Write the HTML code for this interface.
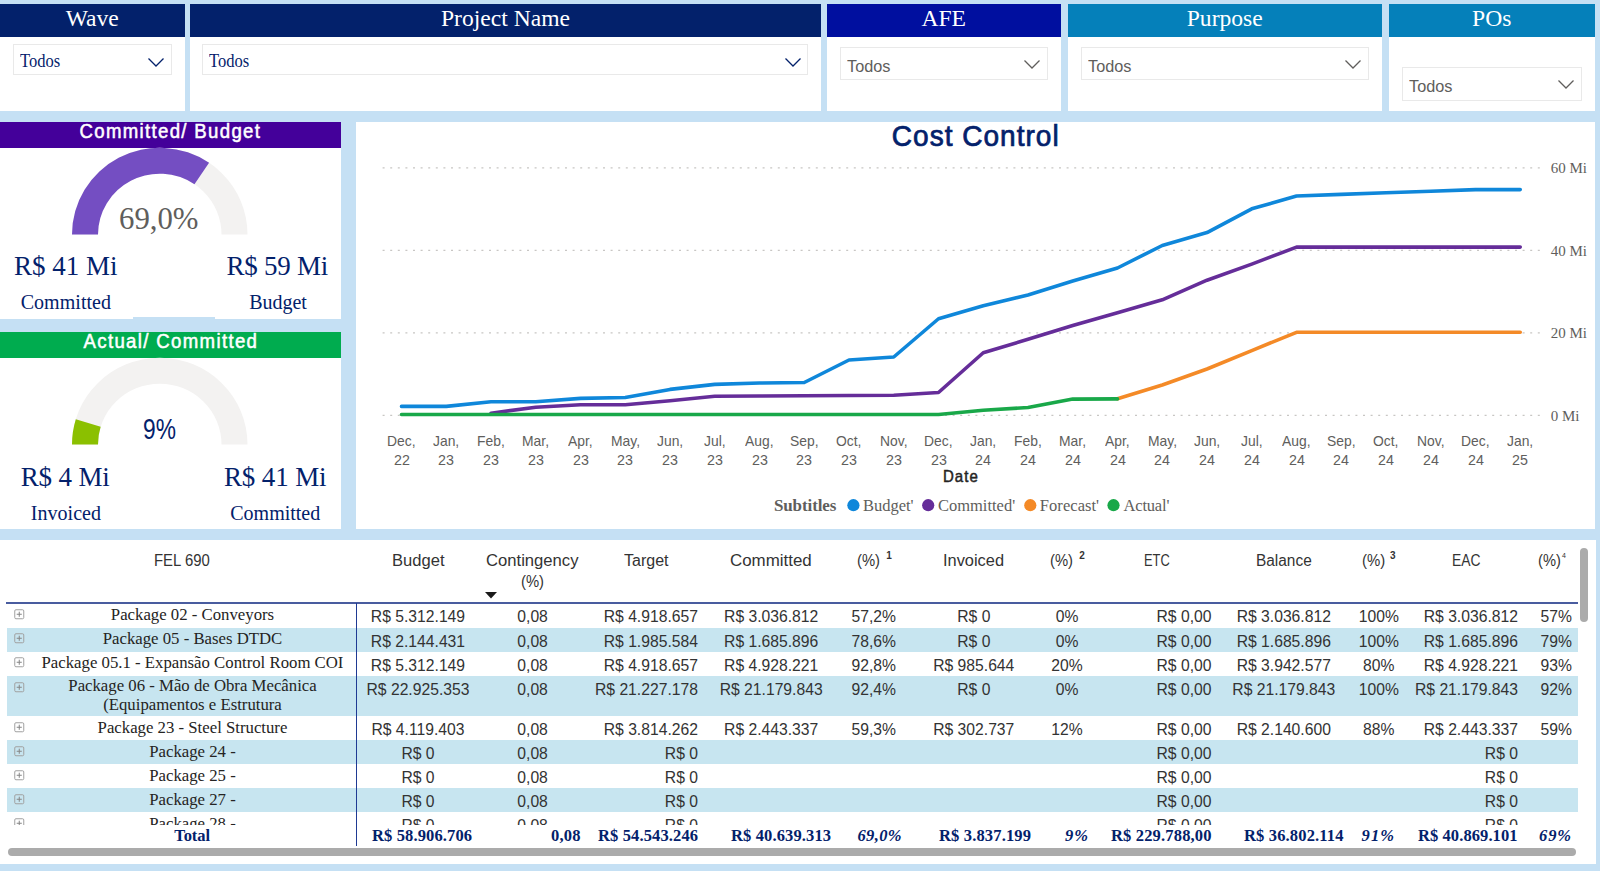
<!DOCTYPE html>
<html lang="en"><head><meta charset="utf-8"><title>Cost Control</title>
<style>
html,body{margin:0;padding:0}
body{width:1600px;height:871px;position:relative;overflow:hidden;background:#c5e0f4;font-family:"Liberation Sans",sans-serif}
.b{position:absolute}
.t{position:absolute;white-space:nowrap}
.s{font-family:"Liberation Serif",serif}
svg{position:absolute;overflow:visible}
</style></head><body>
<div class="b" style="left:0px;top:4px;width:184.5px;height:107.2px;background:#fff;"></div>
<div class="b" style="left:0px;top:4px;width:184.5px;height:33.2px;background:#03216b;"></div>
<div class="t s" style="left:65.69px;top:2.90px;font-size:23.6px;line-height:31px;color:#fff;">Wave</div>
<div class="b" style="left:13px;top:44px;width:156.5px;height:29px;background:#fff;border:1px solid #e9e9e9"></div>
<div class="t s" style="left:20.20px;top:49.70px;font-size:17.8px;line-height:23px;color:#03216b;transform:scale(0.9294,1);transform-origin:0 17.50px;">Todos</div>
<svg style="left:148.0px;top:58px" width="16" height="9" viewBox="0 0 16 9"><path d="M0.5 0.5 L8 8 L15.5 0.5" fill="none" stroke="#03216b" stroke-width="1.3"/></svg>
<div class="b" style="left:190px;top:4px;width:631px;height:107.2px;background:#fff;"></div>
<div class="b" style="left:190px;top:4px;width:631px;height:33.2px;background:#03216b;"></div>
<div class="t s" style="left:440.95px;top:2.90px;font-size:23.6px;line-height:31px;color:#fff;">Project Name</div>
<div class="b" style="left:202px;top:44px;width:604px;height:29px;background:#fff;border:1px solid #e9e9e9"></div>
<div class="t s" style="left:209.20px;top:49.70px;font-size:17.8px;line-height:23px;color:#03216b;transform:scale(0.9294,1);transform-origin:0 17.50px;">Todos</div>
<svg style="left:784.5px;top:58px" width="16" height="9" viewBox="0 0 16 9"><path d="M0.5 0.5 L8 8 L15.5 0.5" fill="none" stroke="#03216b" stroke-width="1.3"/></svg>
<div class="b" style="left:826.5px;top:4px;width:234.5px;height:107.2px;background:#fff;"></div>
<div class="b" style="left:826.5px;top:4px;width:234.5px;height:33.2px;background:#000f9f;"></div>
<div class="t s" style="left:921.46px;top:2.90px;font-size:23.6px;line-height:31px;color:#fff;">AFE</div>
<div class="b" style="left:839.5px;top:46.5px;width:206.5px;height:31.5px;background:#fff;border:1px solid #e9e9e9"></div>
<div class="t" style="left:847.30px;top:55.50px;font-size:17px;line-height:22px;color:#605e5c;transform:scale(0.9569,1);transform-origin:0 16.50px;">Todos</div>
<svg style="left:1024px;top:60.0px" width="16" height="9" viewBox="0 0 16 9"><path d="M0.5 0.5 L8 8 L15.5 0.5" fill="none" stroke="#605e5c" stroke-width="1.3"/></svg>
<div class="b" style="left:1067.5px;top:4px;width:314.5px;height:107.2px;background:#fff;"></div>
<div class="b" style="left:1067.5px;top:4px;width:314.5px;height:33.2px;background:#0580ba;"></div>
<div class="t s" style="left:1186.73px;top:2.90px;font-size:23.6px;line-height:31px;color:#fff;">Purpose</div>
<div class="b" style="left:1080.5px;top:46.5px;width:286.5px;height:31.5px;background:#fff;border:1px solid #e9e9e9"></div>
<div class="t" style="left:1088.30px;top:55.50px;font-size:17px;line-height:22px;color:#605e5c;transform:scale(0.9569,1);transform-origin:0 16.50px;">Todos</div>
<svg style="left:1345px;top:60.0px" width="16" height="9" viewBox="0 0 16 9"><path d="M0.5 0.5 L8 8 L15.5 0.5" fill="none" stroke="#605e5c" stroke-width="1.3"/></svg>
<div class="b" style="left:1388.5px;top:4px;width:206.5px;height:107.2px;background:#fff;"></div>
<div class="b" style="left:1388.5px;top:4px;width:206.5px;height:33.2px;background:#0580ba;"></div>
<div class="t s" style="left:1472.08px;top:2.90px;font-size:23.6px;line-height:31px;color:#fff;">POs</div>
<div class="b" style="left:1401.5px;top:66.5px;width:178.0px;height:32.0px;background:#fff;border:1px solid #e9e9e9"></div>
<div class="t" style="left:1409.30px;top:75.50px;font-size:17px;line-height:22px;color:#605e5c;transform:scale(0.9569,1);transform-origin:0 16.50px;">Todos</div>
<svg style="left:1557.5px;top:80.0px" width="16" height="9" viewBox="0 0 16 9"><path d="M0.5 0.5 L8 8 L15.5 0.5" fill="none" stroke="#605e5c" stroke-width="1.3"/></svg>
<div class="b" style="left:0px;top:122px;width:341px;height:197px;background:#fff;"></div>
<div class="b" style="left:0px;top:122px;width:341px;height:25.5px;background:#44009a;"></div>
<svg style="left:0;top:0" width="342" height="871" viewBox="0 0 342 871">
<path d="M72.00 234.50 A87.75 86.75 0 0 1 247.50 234.50 L221.50 234.50 A61.75 60.75 0 0 0 98.00 234.50 Z" fill="#f3f2f1"/>
<path d="M72.00 234.50 A87.75 86.75 0 0 1 209.07 162.75 L194.46 184.25 A61.75 60.75 0 0 0 98.00 234.50 Z" fill="#744ec2"/>
</svg>
<div class="t" style="left:79.50px;top:119.80px;font-size:18.6px;line-height:24px;color:#fff;letter-spacing:1.330px;-webkit-text-stroke:0.5px #fff;transform:scaleY(1.08);transform-origin:0 18.50px;">Committed/ Budget</div>
<div class="t s" style="left:118.70px;top:199.40px;font-size:31px;line-height:40px;color:#605e5c;transform:scale(0.9928,1);transform-origin:0 30.50px;">69,0%</div>
<div class="t s" style="left:13.90px;top:248.90px;font-size:27px;line-height:35px;color:#03216b;">R$ 41 Mi</div>
<div class="t s" style="left:226.50px;top:248.90px;font-size:27px;line-height:35px;color:#03216b;letter-spacing:-0.245px;">R$ 59 Mi</div>
<div class="t s" style="left:20.70px;top:289.40px;font-size:20px;line-height:26px;color:#03216b;letter-spacing:0.037px;">Committed</div>
<div class="t s" style="left:249.20px;top:289.40px;font-size:20px;line-height:26px;color:#03216b;letter-spacing:-0.036px;">Budget</div>
<div class="b" style="left:133px;top:316.8px;width:82.4px;height:2.4px;background:#c5e0f4;"></div>
<div class="b" style="left:0px;top:332px;width:341px;height:197px;background:#fff;"></div>
<div class="b" style="left:0px;top:332px;width:341px;height:25.5px;background:#00ac4f;"></div>
<svg style="left:0;top:0" width="342" height="871" viewBox="0 0 342 871">
<path d="M72.00 444.50 A87.75 86.75 0 0 1 247.50 444.50 L221.50 444.50 A61.75 60.75 0 0 0 98.00 444.50 Z" fill="#f3f2f1"/>
<path d="M72.00 444.50 A87.75 86.75 0 0 1 75.80 419.25 L100.67 426.82 A61.75 60.75 0 0 0 98.00 444.50 Z" fill="#8bc000"/>
</svg>
<div class="t" style="left:83.50px;top:329.80px;font-size:18.6px;line-height:24px;color:#fff;letter-spacing:1.347px;-webkit-text-stroke:0.5px #fff;transform:scaleY(1.08);transform-origin:0 18.50px;">Actual/ Committed</div>
<div class="t" style="left:143.40px;top:412.40px;font-size:27.5px;line-height:36px;color:#03216b;transform:scale(0.8279,1.06);transform-origin:0 27.50px;">9%</div>
<div class="t s" style="left:20.70px;top:459.50px;font-size:27px;line-height:35px;color:#03216b;letter-spacing:-0.153px;">R$ 4 Mi</div>
<div class="t s" style="left:224.00px;top:459.50px;font-size:27px;line-height:35px;color:#03216b;letter-spacing:-0.145px;">R$ 41 Mi</div>
<div class="t s" style="left:30.80px;top:499.90px;font-size:20px;line-height:26px;color:#03216b;letter-spacing:0.031px;">Invoiced</div>
<div class="t s" style="left:230.30px;top:499.90px;font-size:20px;line-height:26px;color:#03216b;letter-spacing:-0.013px;">Committed</div>
<div class="b" style="left:356px;top:121.6px;width:1239px;height:407.4px;background:#fff;"></div>
<div class="t" style="left:891.80px;top:118.50px;font-size:28px;line-height:36px;color:#03216b;letter-spacing:1.025px;-webkit-text-stroke:0.7px #03216b;transform:scaleY(1.07);transform-origin:0 27.50px;">Cost Control</div>
<svg style="left:0;top:0" width="1600" height="871" viewBox="0 0 1600 871">
<line x1="382.6" y1="167.9" x2="1540" y2="167.9" stroke="#c8c6c4" stroke-width="1.4" stroke-dasharray="2 5.6" />
<line x1="382.6" y1="250.4" x2="1540" y2="250.4" stroke="#c8c6c4" stroke-width="1.4" stroke-dasharray="2 5.6" />
<line x1="382.6" y1="332.9" x2="1540" y2="332.9" stroke="#c8c6c4" stroke-width="1.4" stroke-dasharray="2 5.6" />
<line x1="382.6" y1="415.4" x2="1540" y2="415.4" stroke="#c8c6c4" stroke-width="1.4" stroke-dasharray="2 5.6" />
<polyline points="401.50,406.40 446.25,406.40 491.00,401.80 535.75,401.80 580.50,398.40 625.25,397.50 670.00,389.40 714.75,384.40 759.50,383.00 804.25,382.50 849.00,360.00 893.75,357.00 938.50,318.75 983.25,305.75 1028.00,295.00 1072.75,281.00 1117.50,268.00 1162.25,245.50 1207.00,232.60 1251.75,208.80 1296.50,196.00 1341.25,194.40 1386.00,192.80 1430.75,191.20 1475.50,189.60 1520.25,189.60" fill="none" stroke="#0f87da" stroke-width="3.6" stroke-linecap="round" stroke-linejoin="round"/>
<polyline points="491.00,413.20 535.75,407.20 580.50,404.70 625.25,404.70 670.00,400.70 714.75,396.30 759.50,396.00 804.25,395.75 849.00,395.50 893.75,395.25 938.50,392.50 983.25,352.75 1028.00,339.25 1072.75,325.50 1117.50,312.80 1162.25,299.80 1207.00,280.20 1251.75,264.10 1296.50,247.10 1341.25,247.10 1386.00,247.10 1430.75,247.10 1475.50,247.10 1520.25,247.10" fill="none" stroke="#652d99" stroke-width="3.6" stroke-linecap="round" stroke-linejoin="round"/>
<polyline points="1117.50,398.70 1162.25,385.00 1207.00,369.00 1251.75,350.60 1296.50,332.30 1341.25,332.30 1386.00,332.30 1430.75,332.30 1475.50,332.30 1520.25,332.30" fill="none" stroke="#f48a27" stroke-width="3.6" stroke-linecap="round" stroke-linejoin="round"/>
<polyline points="401.50,414.50 446.25,414.50 491.00,414.50 535.75,414.50 580.50,414.50 625.25,414.50 670.00,414.50 714.75,414.50 759.50,414.50 804.25,414.50 849.00,414.50 893.75,414.50 938.50,414.50 983.25,410.25 1028.00,407.50 1072.75,399.10 1117.50,398.90" fill="none" stroke="#19a849" stroke-width="3.6" stroke-linecap="round" stroke-linejoin="round"/>
<circle cx="853.4" cy="505.2" r="6.1" fill="#0f87da"/>
<circle cx="928.2" cy="505.2" r="6.1" fill="#652d99"/>
<circle cx="1030.3" cy="505.2" r="6.1" fill="#f48a27"/>
<circle cx="1113.5" cy="505.2" r="6.1" fill="#19a849"/>
</svg>
<div class="t s" style="left:1550.70px;top:158.40px;font-size:15px;line-height:20px;color:#605e5c;">60 Mi</div>
<div class="t s" style="left:1550.70px;top:240.90px;font-size:15px;line-height:20px;color:#605e5c;">40 Mi</div>
<div class="t s" style="left:1550.70px;top:323.40px;font-size:15px;line-height:20px;color:#605e5c;">20 Mi</div>
<div class="t s" style="left:1550.70px;top:405.90px;font-size:15px;line-height:20px;color:#605e5c;">0 Mi</div>
<div class="t" style="left:387.24px;top:430.60px;font-size:15px;line-height:20px;color:#605e5c;transform:scale(0.9250,1);transform-origin:0 15.50px;">Dec,</div>
<div class="t" style="left:393.58px;top:449.60px;font-size:15px;line-height:20px;color:#605e5c;transform:scale(0.9500,1);transform-origin:0 15.50px;">22</div>
<div class="t" style="left:433.14px;top:430.60px;font-size:15px;line-height:20px;color:#605e5c;transform:scale(0.9250,1);transform-origin:0 15.50px;">Jan,</div>
<div class="t" style="left:438.33px;top:449.60px;font-size:15px;line-height:20px;color:#605e5c;transform:scale(0.9500,1);transform-origin:0 15.50px;">23</div>
<div class="t" style="left:477.12px;top:430.60px;font-size:15px;line-height:20px;color:#605e5c;transform:scale(0.9250,1);transform-origin:0 15.50px;">Feb,</div>
<div class="t" style="left:483.08px;top:449.60px;font-size:15px;line-height:20px;color:#605e5c;transform:scale(0.9500,1);transform-origin:0 15.50px;">23</div>
<div class="t" style="left:522.26px;top:430.60px;font-size:15px;line-height:20px;color:#605e5c;transform:scale(0.9250,1);transform-origin:0 15.50px;">Mar,</div>
<div class="t" style="left:527.83px;top:449.60px;font-size:15px;line-height:20px;color:#605e5c;transform:scale(0.9500,1);transform-origin:0 15.50px;">23</div>
<div class="t" style="left:568.16px;top:430.60px;font-size:15px;line-height:20px;color:#605e5c;transform:scale(0.9250,1);transform-origin:0 15.50px;">Apr,</div>
<div class="t" style="left:572.58px;top:449.60px;font-size:15px;line-height:20px;color:#605e5c;transform:scale(0.9500,1);transform-origin:0 15.50px;">23</div>
<div class="t" style="left:610.73px;top:430.60px;font-size:15px;line-height:20px;color:#605e5c;transform:scale(0.9250,1);transform-origin:0 15.50px;">May,</div>
<div class="t" style="left:617.33px;top:449.60px;font-size:15px;line-height:20px;color:#605e5c;transform:scale(0.9500,1);transform-origin:0 15.50px;">23</div>
<div class="t" style="left:656.89px;top:430.60px;font-size:15px;line-height:20px;color:#605e5c;transform:scale(0.9250,1);transform-origin:0 15.50px;">Jun,</div>
<div class="t" style="left:662.08px;top:449.60px;font-size:15px;line-height:20px;color:#605e5c;transform:scale(0.9500,1);transform-origin:0 15.50px;">23</div>
<div class="t" style="left:703.96px;top:430.60px;font-size:15px;line-height:20px;color:#605e5c;transform:scale(0.9250,1);transform-origin:0 15.50px;">Jul,</div>
<div class="t" style="left:706.83px;top:449.60px;font-size:15px;line-height:20px;color:#605e5c;transform:scale(0.9500,1);transform-origin:0 15.50px;">23</div>
<div class="t" style="left:745.23px;top:430.60px;font-size:15px;line-height:20px;color:#605e5c;transform:scale(0.9250,1);transform-origin:0 15.50px;">Aug,</div>
<div class="t" style="left:751.58px;top:449.60px;font-size:15px;line-height:20px;color:#605e5c;transform:scale(0.9500,1);transform-origin:0 15.50px;">23</div>
<div class="t" style="left:789.98px;top:430.60px;font-size:15px;line-height:20px;color:#605e5c;transform:scale(0.9250,1);transform-origin:0 15.50px;">Sep,</div>
<div class="t" style="left:796.33px;top:449.60px;font-size:15px;line-height:20px;color:#605e5c;transform:scale(0.9500,1);transform-origin:0 15.50px;">23</div>
<div class="t" style="left:836.28px;top:430.60px;font-size:15px;line-height:20px;color:#605e5c;transform:scale(0.9250,1);transform-origin:0 15.50px;">Oct,</div>
<div class="t" style="left:841.08px;top:449.60px;font-size:15px;line-height:20px;color:#605e5c;transform:scale(0.9500,1);transform-origin:0 15.50px;">23</div>
<div class="t" style="left:880.00px;top:430.60px;font-size:15px;line-height:20px;color:#605e5c;transform:scale(0.9250,1);transform-origin:0 15.50px;">Nov,</div>
<div class="t" style="left:885.83px;top:449.60px;font-size:15px;line-height:20px;color:#605e5c;transform:scale(0.9500,1);transform-origin:0 15.50px;">23</div>
<div class="t" style="left:924.24px;top:430.60px;font-size:15px;line-height:20px;color:#605e5c;transform:scale(0.9250,1);transform-origin:0 15.50px;">Dec,</div>
<div class="t" style="left:930.58px;top:449.60px;font-size:15px;line-height:20px;color:#605e5c;transform:scale(0.9500,1);transform-origin:0 15.50px;">23</div>
<div class="t" style="left:970.14px;top:430.60px;font-size:15px;line-height:20px;color:#605e5c;transform:scale(0.9250,1);transform-origin:0 15.50px;">Jan,</div>
<div class="t" style="left:975.33px;top:449.60px;font-size:15px;line-height:20px;color:#605e5c;transform:scale(0.9500,1);transform-origin:0 15.50px;">24</div>
<div class="t" style="left:1014.12px;top:430.60px;font-size:15px;line-height:20px;color:#605e5c;transform:scale(0.9250,1);transform-origin:0 15.50px;">Feb,</div>
<div class="t" style="left:1020.08px;top:449.60px;font-size:15px;line-height:20px;color:#605e5c;transform:scale(0.9500,1);transform-origin:0 15.50px;">24</div>
<div class="t" style="left:1059.26px;top:430.60px;font-size:15px;line-height:20px;color:#605e5c;transform:scale(0.9250,1);transform-origin:0 15.50px;">Mar,</div>
<div class="t" style="left:1064.83px;top:449.60px;font-size:15px;line-height:20px;color:#605e5c;transform:scale(0.9500,1);transform-origin:0 15.50px;">24</div>
<div class="t" style="left:1105.16px;top:430.60px;font-size:15px;line-height:20px;color:#605e5c;transform:scale(0.9250,1);transform-origin:0 15.50px;">Apr,</div>
<div class="t" style="left:1109.58px;top:449.60px;font-size:15px;line-height:20px;color:#605e5c;transform:scale(0.9500,1);transform-origin:0 15.50px;">24</div>
<div class="t" style="left:1147.73px;top:430.60px;font-size:15px;line-height:20px;color:#605e5c;transform:scale(0.9250,1);transform-origin:0 15.50px;">May,</div>
<div class="t" style="left:1154.33px;top:449.60px;font-size:15px;line-height:20px;color:#605e5c;transform:scale(0.9500,1);transform-origin:0 15.50px;">24</div>
<div class="t" style="left:1193.89px;top:430.60px;font-size:15px;line-height:20px;color:#605e5c;transform:scale(0.9250,1);transform-origin:0 15.50px;">Jun,</div>
<div class="t" style="left:1199.08px;top:449.60px;font-size:15px;line-height:20px;color:#605e5c;transform:scale(0.9500,1);transform-origin:0 15.50px;">24</div>
<div class="t" style="left:1240.96px;top:430.60px;font-size:15px;line-height:20px;color:#605e5c;transform:scale(0.9250,1);transform-origin:0 15.50px;">Jul,</div>
<div class="t" style="left:1243.83px;top:449.60px;font-size:15px;line-height:20px;color:#605e5c;transform:scale(0.9500,1);transform-origin:0 15.50px;">24</div>
<div class="t" style="left:1282.23px;top:430.60px;font-size:15px;line-height:20px;color:#605e5c;transform:scale(0.9250,1);transform-origin:0 15.50px;">Aug,</div>
<div class="t" style="left:1288.58px;top:449.60px;font-size:15px;line-height:20px;color:#605e5c;transform:scale(0.9500,1);transform-origin:0 15.50px;">24</div>
<div class="t" style="left:1326.98px;top:430.60px;font-size:15px;line-height:20px;color:#605e5c;transform:scale(0.9250,1);transform-origin:0 15.50px;">Sep,</div>
<div class="t" style="left:1333.33px;top:449.60px;font-size:15px;line-height:20px;color:#605e5c;transform:scale(0.9500,1);transform-origin:0 15.50px;">24</div>
<div class="t" style="left:1373.28px;top:430.60px;font-size:15px;line-height:20px;color:#605e5c;transform:scale(0.9250,1);transform-origin:0 15.50px;">Oct,</div>
<div class="t" style="left:1378.08px;top:449.60px;font-size:15px;line-height:20px;color:#605e5c;transform:scale(0.9500,1);transform-origin:0 15.50px;">24</div>
<div class="t" style="left:1417.00px;top:430.60px;font-size:15px;line-height:20px;color:#605e5c;transform:scale(0.9250,1);transform-origin:0 15.50px;">Nov,</div>
<div class="t" style="left:1422.83px;top:449.60px;font-size:15px;line-height:20px;color:#605e5c;transform:scale(0.9500,1);transform-origin:0 15.50px;">24</div>
<div class="t" style="left:1461.24px;top:430.60px;font-size:15px;line-height:20px;color:#605e5c;transform:scale(0.9250,1);transform-origin:0 15.50px;">Dec,</div>
<div class="t" style="left:1467.58px;top:449.60px;font-size:15px;line-height:20px;color:#605e5c;transform:scale(0.9500,1);transform-origin:0 15.50px;">24</div>
<div class="t" style="left:1507.14px;top:430.60px;font-size:15px;line-height:20px;color:#605e5c;transform:scale(0.9250,1);transform-origin:0 15.50px;">Jan,</div>
<div class="t" style="left:1512.33px;top:449.60px;font-size:15px;line-height:20px;color:#605e5c;transform:scale(0.9500,1);transform-origin:0 15.50px;">25</div>
<div class="t" style="left:943.00px;top:466.50px;font-size:15px;line-height:20px;color:#252423;letter-spacing:1.040px;-webkit-text-stroke:0.45px #252423;transform:scaleY(1.06);transform-origin:0 15.50px;">Date</div>
<div class="t s" style="left:773.90px;top:494.50px;font-size:17px;line-height:22px;color:#605e5c;font-weight:700;letter-spacing:-0.099px;">Subtitles</div>
<div class="t s" style="left:863.10px;top:495.00px;font-size:16.5px;line-height:21px;color:#605e5c;letter-spacing:-0.040px;">Budget'</div>
<div class="t s" style="left:938.00px;top:495.00px;font-size:16.5px;line-height:21px;color:#605e5c;letter-spacing:-0.013px;">Committed'</div>
<div class="t s" style="left:1039.80px;top:495.00px;font-size:16.5px;line-height:21px;color:#605e5c;letter-spacing:0.053px;">Forecast'</div>
<div class="t s" style="left:1123.50px;top:495.00px;font-size:16.5px;line-height:21px;color:#605e5c;letter-spacing:-0.176px;">Actual'</div>
<div class="b" style="left:0px;top:540px;width:1595.5px;height:324px;background:#fff;"></div>
<div class="t" style="left:153.75px;top:549.70px;font-size:16px;line-height:21px;color:#333;transform:scale(0.9309,1);transform-origin:0 16.00px;">FEL 690</div>
<div class="t" style="left:391.75px;top:549.70px;font-size:16px;line-height:21px;color:#333;transform:scale(1.0354,1);transform-origin:0 16.00px;">Budget</div>
<div class="t" style="left:486.25px;top:549.70px;font-size:16px;line-height:21px;color:#333;transform:scale(1.0400,1);transform-origin:0 16.00px;">Contingency</div>
<div class="t" style="left:521.25px;top:571.00px;font-size:16px;line-height:21px;color:#333;transform:scale(0.9244,1);transform-origin:0 16.00px;">(%)</div>
<div class="t" style="left:623.75px;top:549.70px;font-size:16px;line-height:21px;color:#333;transform:scale(1.0008,1);transform-origin:0 16.00px;">Target</div>
<div class="t" style="left:730.00px;top:549.70px;font-size:16px;line-height:21px;color:#333;transform:scale(1.0567,1);transform-origin:0 16.00px;">Committed</div>
<div class="t" style="left:856.50px;top:549.70px;font-size:16px;line-height:21px;color:#333;transform:scale(0.9244,1);transform-origin:0 16.00px;">(%)</div>
<div class="t" style="left:886.25px;top:549.30px;font-size:10px;line-height:13px;color:#333;font-weight:700;">1</div>
<div class="t" style="left:943.25px;top:549.70px;font-size:16px;line-height:21px;color:#333;transform:scale(1.0235,1);transform-origin:0 16.00px;">Invoiced</div>
<div class="t" style="left:1050.00px;top:549.70px;font-size:16px;line-height:21px;color:#333;transform:scale(0.9244,1);transform-origin:0 16.00px;">(%)</div>
<div class="t" style="left:1079.25px;top:549.30px;font-size:10px;line-height:13px;color:#333;font-weight:700;">2</div>
<div class="t" style="left:1144.25px;top:549.70px;font-size:16px;line-height:21px;color:#333;transform:scale(0.8047,1);transform-origin:0 16.00px;">ETC</div>
<div class="t" style="left:1256.25px;top:549.70px;font-size:16px;line-height:21px;color:#333;transform:scale(0.9641,1);transform-origin:0 16.00px;">Balance</div>
<div class="t" style="left:1361.50px;top:549.70px;font-size:16px;line-height:21px;color:#333;transform:scale(0.9325,1);transform-origin:0 16.00px;">(%)</div>
<div class="t" style="left:1390.00px;top:549.30px;font-size:10px;line-height:13px;color:#333;font-weight:700;">3</div>
<div class="t" style="left:1451.50px;top:549.70px;font-size:16px;line-height:21px;color:#333;transform:scale(0.8664,1);transform-origin:0 16.00px;">EAC</div>
<div class="t" style="left:1538.00px;top:549.70px;font-size:16px;line-height:21px;color:#333;transform:scale(0.9164,1);transform-origin:0 16.00px;">(%)</div>
<div class="t" style="left:1562.00px;top:550.50px;font-size:7px;line-height:9px;color:#333;">4</div>
<svg style="left:485px;top:592px" width="12" height="7" viewBox="0 0 12 7"><path d="M0 0 H12 L6 6.5 Z" fill="#1a1a1a"/></svg>
<div class="b" style="left:0;top:603.3px;width:1595px;height:222.2px;overflow:hidden">
<div class="b" style="left:0;top:-603.3px;width:1595px;height:871px">
<svg style="left:14px;top:609.10px" width="11" height="11" viewBox="0 0 11 11"><rect x="0.75" y="0.75" width="9" height="9" rx="1.2" fill="none" stroke="#a0a0a0" stroke-width="1"/><path d="M2.7 5.25 H7.8 M5.25 2.7 V7.8" stroke="#858585" stroke-width="1" fill="none"/></svg>
<div class="t s" style="left:110.86px;top:604.10px;font-size:16.75px;line-height:22px;color:#252423;">Package 02 - Conveyors</div>
<div class="t" style="left:370.86px;top:607.40px;font-size:15.7px;line-height:20px;color:#333;">R$ 5.312.149</div>
<div class="t" style="left:517.32px;top:607.40px;font-size:15.7px;line-height:20px;color:#333;">0,08</div>
<div class="t" style="left:603.72px;top:607.40px;font-size:15.7px;line-height:20px;color:#333;">R$ 4.918.657</div>
<div class="t" style="left:724.06px;top:607.40px;font-size:15.7px;line-height:20px;color:#333;">R$ 3.036.812</div>
<div class="t" style="left:851.55px;top:607.40px;font-size:15.7px;line-height:20px;color:#333;">57,2%</div>
<div class="t" style="left:957.22px;top:607.40px;font-size:15.7px;line-height:20px;color:#333;">R$ 0</div>
<div class="t" style="left:1055.66px;top:607.40px;font-size:15.7px;line-height:20px;color:#333;">0%</div>
<div class="t" style="left:1156.52px;top:607.40px;font-size:15.7px;line-height:20px;color:#333;">R$ 0,00</div>
<div class="t" style="left:1236.66px;top:607.40px;font-size:15.7px;line-height:20px;color:#333;">R$ 3.036.812</div>
<div class="t" style="left:1358.72px;top:607.40px;font-size:15.7px;line-height:20px;color:#333;">100%</div>
<div class="t" style="left:1423.72px;top:607.40px;font-size:15.7px;line-height:20px;color:#333;">R$ 3.036.812</div>
<div class="t" style="left:1540.58px;top:607.40px;font-size:15.7px;line-height:20px;color:#333;">57%</div>
<div class="b" style="left:6.9px;top:627.5px;width:1570.9px;height:24.0px;background:#c7e5f0;"></div>
<svg style="left:14px;top:633.30px" width="11" height="11" viewBox="0 0 11 11"><rect x="0.75" y="0.75" width="9" height="9" rx="1.2" fill="none" stroke="#a0a0a0" stroke-width="1"/><path d="M2.7 5.25 H7.8 M5.25 2.7 V7.8" stroke="#858585" stroke-width="1" fill="none"/></svg>
<div class="t s" style="left:102.72px;top:628.30px;font-size:16.75px;line-height:22px;color:#252423;">Package 05 - Bases DTDC</div>
<div class="t" style="left:370.86px;top:631.60px;font-size:15.7px;line-height:20px;color:#333;">R$ 2.144.431</div>
<div class="t" style="left:517.32px;top:631.60px;font-size:15.7px;line-height:20px;color:#333;">0,08</div>
<div class="t" style="left:603.72px;top:631.60px;font-size:15.7px;line-height:20px;color:#333;">R$ 1.985.584</div>
<div class="t" style="left:724.06px;top:631.60px;font-size:15.7px;line-height:20px;color:#333;">R$ 1.685.896</div>
<div class="t" style="left:851.55px;top:631.60px;font-size:15.7px;line-height:20px;color:#333;">78,6%</div>
<div class="t" style="left:957.22px;top:631.60px;font-size:15.7px;line-height:20px;color:#333;">R$ 0</div>
<div class="t" style="left:1055.66px;top:631.60px;font-size:15.7px;line-height:20px;color:#333;">0%</div>
<div class="t" style="left:1156.52px;top:631.60px;font-size:15.7px;line-height:20px;color:#333;">R$ 0,00</div>
<div class="t" style="left:1236.66px;top:631.60px;font-size:15.7px;line-height:20px;color:#333;">R$ 1.685.896</div>
<div class="t" style="left:1358.72px;top:631.60px;font-size:15.7px;line-height:20px;color:#333;">100%</div>
<div class="t" style="left:1423.72px;top:631.60px;font-size:15.7px;line-height:20px;color:#333;">R$ 1.685.896</div>
<div class="t" style="left:1540.58px;top:631.60px;font-size:15.7px;line-height:20px;color:#333;">79%</div>
<svg style="left:14px;top:657.30px" width="11" height="11" viewBox="0 0 11 11"><rect x="0.75" y="0.75" width="9" height="9" rx="1.2" fill="none" stroke="#a0a0a0" stroke-width="1"/><path d="M2.7 5.25 H7.8 M5.25 2.7 V7.8" stroke="#858585" stroke-width="1" fill="none"/></svg>
<div class="t s" style="left:41.54px;top:652.30px;font-size:16.75px;line-height:22px;color:#252423;">Package 05.1 - Expansão Control Room COI</div>
<div class="t" style="left:370.86px;top:655.60px;font-size:15.7px;line-height:20px;color:#333;">R$ 5.312.149</div>
<div class="t" style="left:517.32px;top:655.60px;font-size:15.7px;line-height:20px;color:#333;">0,08</div>
<div class="t" style="left:603.72px;top:655.60px;font-size:15.7px;line-height:20px;color:#333;">R$ 4.918.657</div>
<div class="t" style="left:724.06px;top:655.60px;font-size:15.7px;line-height:20px;color:#333;">R$ 4.928.221</div>
<div class="t" style="left:851.55px;top:655.60px;font-size:15.7px;line-height:20px;color:#333;">92,8%</div>
<div class="t" style="left:933.21px;top:655.60px;font-size:15.7px;line-height:20px;color:#333;">R$ 985.644</div>
<div class="t" style="left:1051.29px;top:655.60px;font-size:15.7px;line-height:20px;color:#333;">20%</div>
<div class="t" style="left:1156.52px;top:655.60px;font-size:15.7px;line-height:20px;color:#333;">R$ 0,00</div>
<div class="t" style="left:1236.66px;top:655.60px;font-size:15.7px;line-height:20px;color:#333;">R$ 3.942.577</div>
<div class="t" style="left:1363.09px;top:655.60px;font-size:15.7px;line-height:20px;color:#333;">80%</div>
<div class="t" style="left:1423.72px;top:655.60px;font-size:15.7px;line-height:20px;color:#333;">R$ 4.928.221</div>
<div class="t" style="left:1540.58px;top:655.60px;font-size:15.7px;line-height:20px;color:#333;">93%</div>
<div class="b" style="left:6.9px;top:675.75px;width:1570.9px;height:40.0px;background:#c7e5f0;"></div>
<svg style="left:14px;top:681.55px" width="11" height="11" viewBox="0 0 11 11"><rect x="0.75" y="0.75" width="9" height="9" rx="1.2" fill="none" stroke="#a0a0a0" stroke-width="1"/><path d="M2.7 5.25 H7.8 M5.25 2.7 V7.8" stroke="#858585" stroke-width="1" fill="none"/></svg>
<div class="t s" style="left:68.32px;top:675.45px;font-size:16.75px;line-height:22px;color:#252423;">Package 06 - Mão de Obra Mecânica</div>
<div class="t s" style="left:103.19px;top:694.45px;font-size:16.75px;line-height:22px;color:#252423;">(Equipamentos e Estrutura</div>
<div class="t" style="left:366.50px;top:679.85px;font-size:15.7px;line-height:20px;color:#333;">R$ 22.925.353</div>
<div class="t" style="left:517.32px;top:679.85px;font-size:15.7px;line-height:20px;color:#333;">0,08</div>
<div class="t" style="left:594.99px;top:679.85px;font-size:15.7px;line-height:20px;color:#333;">R$ 21.227.178</div>
<div class="t" style="left:719.70px;top:679.85px;font-size:15.7px;line-height:20px;color:#333;">R$ 21.179.843</div>
<div class="t" style="left:851.55px;top:679.85px;font-size:15.7px;line-height:20px;color:#333;">92,4%</div>
<div class="t" style="left:957.22px;top:679.85px;font-size:15.7px;line-height:20px;color:#333;">R$ 0</div>
<div class="t" style="left:1055.66px;top:679.85px;font-size:15.7px;line-height:20px;color:#333;">0%</div>
<div class="t" style="left:1156.52px;top:679.85px;font-size:15.7px;line-height:20px;color:#333;">R$ 0,00</div>
<div class="t" style="left:1232.30px;top:679.85px;font-size:15.7px;line-height:20px;color:#333;">R$ 21.179.843</div>
<div class="t" style="left:1358.72px;top:679.85px;font-size:15.7px;line-height:20px;color:#333;">100%</div>
<div class="t" style="left:1414.99px;top:679.85px;font-size:15.7px;line-height:20px;color:#333;">R$ 21.179.843</div>
<div class="t" style="left:1540.58px;top:679.85px;font-size:15.7px;line-height:20px;color:#333;">92%</div>
<svg style="left:14px;top:721.55px" width="11" height="11" viewBox="0 0 11 11"><rect x="0.75" y="0.75" width="9" height="9" rx="1.2" fill="none" stroke="#a0a0a0" stroke-width="1"/><path d="M2.7 5.25 H7.8 M5.25 2.7 V7.8" stroke="#858585" stroke-width="1" fill="none"/></svg>
<div class="t s" style="left:97.61px;top:716.55px;font-size:16.75px;line-height:22px;color:#252423;">Package 23 - Steel Structure</div>
<div class="t" style="left:371.44px;top:719.85px;font-size:15.7px;line-height:20px;color:#333;">R$ 4.119.403</div>
<div class="t" style="left:517.32px;top:719.85px;font-size:15.7px;line-height:20px;color:#333;">0,08</div>
<div class="t" style="left:603.72px;top:719.85px;font-size:15.7px;line-height:20px;color:#333;">R$ 3.814.262</div>
<div class="t" style="left:724.06px;top:719.85px;font-size:15.7px;line-height:20px;color:#333;">R$ 2.443.337</div>
<div class="t" style="left:851.55px;top:719.85px;font-size:15.7px;line-height:20px;color:#333;">59,3%</div>
<div class="t" style="left:933.21px;top:719.85px;font-size:15.7px;line-height:20px;color:#333;">R$ 302.737</div>
<div class="t" style="left:1051.29px;top:719.85px;font-size:15.7px;line-height:20px;color:#333;">12%</div>
<div class="t" style="left:1156.52px;top:719.85px;font-size:15.7px;line-height:20px;color:#333;">R$ 0,00</div>
<div class="t" style="left:1236.66px;top:719.85px;font-size:15.7px;line-height:20px;color:#333;">R$ 2.140.600</div>
<div class="t" style="left:1363.09px;top:719.85px;font-size:15.7px;line-height:20px;color:#333;">88%</div>
<div class="t" style="left:1423.72px;top:719.85px;font-size:15.7px;line-height:20px;color:#333;">R$ 2.443.337</div>
<div class="t" style="left:1540.58px;top:719.85px;font-size:15.7px;line-height:20px;color:#333;">59%</div>
<div class="b" style="left:6.9px;top:740px;width:1570.9px;height:24px;background:#c7e5f0;"></div>
<svg style="left:14px;top:745.80px" width="11" height="11" viewBox="0 0 11 11"><rect x="0.75" y="0.75" width="9" height="9" rx="1.2" fill="none" stroke="#a0a0a0" stroke-width="1"/><path d="M2.7 5.25 H7.8 M5.25 2.7 V7.8" stroke="#858585" stroke-width="1" fill="none"/></svg>
<div class="t s" style="left:149.24px;top:740.80px;font-size:16.75px;line-height:22px;color:#252423;">Package 24 -</div>
<div class="t" style="left:401.42px;top:744.10px;font-size:15.7px;line-height:20px;color:#333;">R$ 0</div>
<div class="t" style="left:517.32px;top:744.10px;font-size:15.7px;line-height:20px;color:#333;">0,08</div>
<div class="t" style="left:664.84px;top:744.10px;font-size:15.7px;line-height:20px;color:#333;">R$ 0</div>
<div class="t" style="left:1156.52px;top:744.10px;font-size:15.7px;line-height:20px;color:#333;">R$ 0,00</div>
<div class="t" style="left:1484.84px;top:744.10px;font-size:15.7px;line-height:20px;color:#333;">R$ 0</div>
<svg style="left:14px;top:769.80px" width="11" height="11" viewBox="0 0 11 11"><rect x="0.75" y="0.75" width="9" height="9" rx="1.2" fill="none" stroke="#a0a0a0" stroke-width="1"/><path d="M2.7 5.25 H7.8 M5.25 2.7 V7.8" stroke="#858585" stroke-width="1" fill="none"/></svg>
<div class="t s" style="left:149.24px;top:764.80px;font-size:16.75px;line-height:22px;color:#252423;">Package 25 -</div>
<div class="t" style="left:401.42px;top:768.10px;font-size:15.7px;line-height:20px;color:#333;">R$ 0</div>
<div class="t" style="left:517.32px;top:768.10px;font-size:15.7px;line-height:20px;color:#333;">0,08</div>
<div class="t" style="left:664.84px;top:768.10px;font-size:15.7px;line-height:20px;color:#333;">R$ 0</div>
<div class="t" style="left:1156.52px;top:768.10px;font-size:15.7px;line-height:20px;color:#333;">R$ 0,00</div>
<div class="t" style="left:1484.84px;top:768.10px;font-size:15.7px;line-height:20px;color:#333;">R$ 0</div>
<div class="b" style="left:6.9px;top:788px;width:1570.9px;height:24px;background:#c7e5f0;"></div>
<svg style="left:14px;top:793.80px" width="11" height="11" viewBox="0 0 11 11"><rect x="0.75" y="0.75" width="9" height="9" rx="1.2" fill="none" stroke="#a0a0a0" stroke-width="1"/><path d="M2.7 5.25 H7.8 M5.25 2.7 V7.8" stroke="#858585" stroke-width="1" fill="none"/></svg>
<div class="t s" style="left:149.24px;top:788.80px;font-size:16.75px;line-height:22px;color:#252423;">Package 27 -</div>
<div class="t" style="left:401.42px;top:792.10px;font-size:15.7px;line-height:20px;color:#333;">R$ 0</div>
<div class="t" style="left:517.32px;top:792.10px;font-size:15.7px;line-height:20px;color:#333;">0,08</div>
<div class="t" style="left:664.84px;top:792.10px;font-size:15.7px;line-height:20px;color:#333;">R$ 0</div>
<div class="t" style="left:1156.52px;top:792.10px;font-size:15.7px;line-height:20px;color:#333;">R$ 0,00</div>
<div class="t" style="left:1484.84px;top:792.10px;font-size:15.7px;line-height:20px;color:#333;">R$ 0</div>
<svg style="left:14px;top:817.80px" width="11" height="11" viewBox="0 0 11 11"><rect x="0.75" y="0.75" width="9" height="9" rx="1.2" fill="none" stroke="#a0a0a0" stroke-width="1"/><path d="M2.7 5.25 H7.8 M5.25 2.7 V7.8" stroke="#858585" stroke-width="1" fill="none"/></svg>
<div class="t s" style="left:149.24px;top:812.80px;font-size:16.75px;line-height:22px;color:#252423;">Package 28 -</div>
<div class="t" style="left:401.42px;top:816.10px;font-size:15.7px;line-height:20px;color:#333;">R$ 0</div>
<div class="t" style="left:517.32px;top:816.10px;font-size:15.7px;line-height:20px;color:#333;">0,08</div>
<div class="t" style="left:664.84px;top:816.10px;font-size:15.7px;line-height:20px;color:#333;">R$ 0</div>
<div class="t" style="left:1156.52px;top:816.10px;font-size:15.7px;line-height:20px;color:#333;">R$ 0,00</div>
<div class="t" style="left:1484.84px;top:816.10px;font-size:15.7px;line-height:20px;color:#333;">R$ 0</div>
</div></div>
<div class="b" style="left:6.3px;top:602.4px;width:1571.5px;height:1.6px;background:#495c9f;"></div>
<div class="b" style="left:355.6px;top:603px;width:1.4px;height:243px;background:#1f3a93;"></div>
<div class="t s" style="left:174.25px;top:825.30px;font-size:16.5px;line-height:21px;color:#03216b;font-weight:700;letter-spacing:-0.080px;">Total</div>
<div class="t s" style="left:372.00px;top:825.30px;font-size:16.5px;line-height:21px;color:#03216b;font-weight:700;letter-spacing:0.122px;">R$ 58.906.706</div>
<div class="t s" style="left:551.00px;top:825.30px;font-size:16.5px;line-height:21px;color:#03216b;font-weight:700;letter-spacing:0.208px;">0,08</div>
<div class="t s" style="left:598.00px;top:825.30px;font-size:16.5px;line-height:21px;color:#03216b;font-weight:700;letter-spacing:0.122px;">R$ 54.543.246</div>
<div class="t s" style="left:731.00px;top:825.30px;font-size:16.5px;line-height:21px;color:#03216b;font-weight:700;letter-spacing:0.122px;">R$ 40.639.313</div>
<div class="t s" style="left:857.50px;top:825.30px;font-size:16.5px;line-height:21px;color:#03216b;font-weight:700;font-style:italic;letter-spacing:0.345px;">69,0%</div>
<div class="t s" style="left:939.00px;top:825.30px;font-size:16.5px;line-height:21px;color:#03216b;font-weight:700;letter-spacing:0.156px;">R$ 3.837.199</div>
<div class="t s" style="left:1065.00px;top:825.30px;font-size:16.5px;line-height:21px;color:#03216b;font-weight:700;font-style:italic;letter-spacing:1.006px;">9%</div>
<div class="t s" style="left:1111.00px;top:825.30px;font-size:16.5px;line-height:21px;color:#03216b;font-weight:700;letter-spacing:0.164px;">R$ 229.788,00</div>
<div class="t s" style="left:1244.00px;top:825.30px;font-size:16.5px;line-height:21px;color:#03216b;font-weight:700;letter-spacing:0.156px;">R$ 36.802.114</div>
<div class="t s" style="left:1361.50px;top:825.30px;font-size:16.5px;line-height:21px;color:#03216b;font-weight:700;font-style:italic;letter-spacing:1.128px;">91%</div>
<div class="t s" style="left:1418.00px;top:825.30px;font-size:16.5px;line-height:21px;color:#03216b;font-weight:700;letter-spacing:0.080px;">R$ 40.869.101</div>
<div class="t s" style="left:1539.00px;top:825.30px;font-size:16.5px;line-height:21px;color:#03216b;font-weight:700;font-style:italic;letter-spacing:0.878px;">69%</div>
<div class="b" style="left:7.5px;top:848px;width:1568px;height:8.3px;background:#ababab;border-radius:4.2px"></div>
<div class="b" style="left:1579.7px;top:548.3px;width:8.2px;height:73.4px;background:#ababab;border-radius:4.1px"></div>
</body></html>
